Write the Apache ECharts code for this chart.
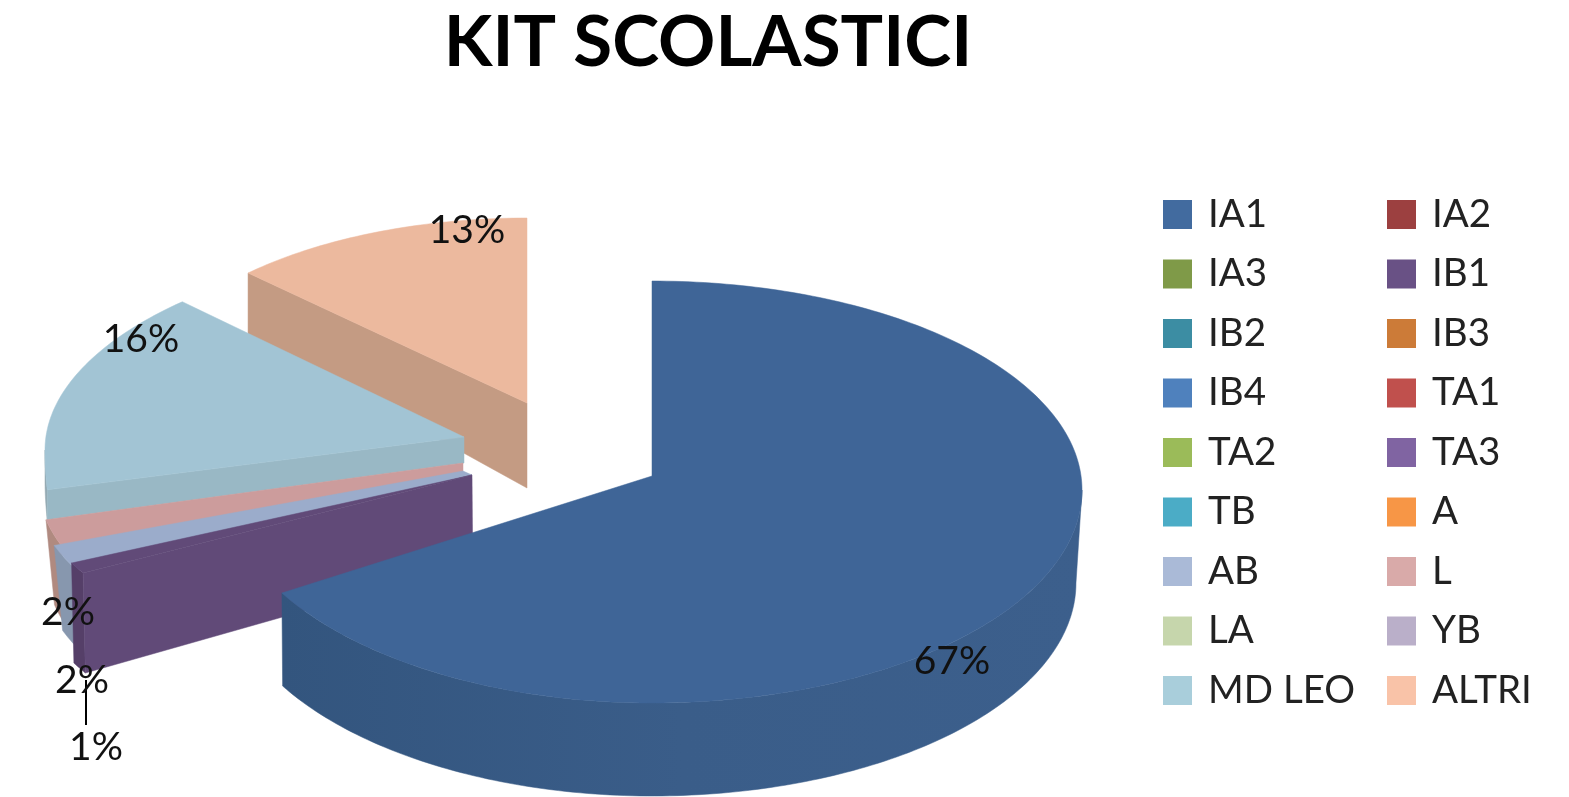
<!DOCTYPE html>
<html>
<head>
<meta charset="utf-8">
<script src="https://cdn.jsdelivr.net/npm/echarts@6/dist/echarts.min.js"></script>
<style>html,body{margin:0;padding:0;background:#fff}#c{width:1569px;height:797px;filter:blur(0.5px)}</style>
</head>
<body>
<div id="c"></div>
<script>
var chartTitle = 'KIT SCOLASTICI';
var categories = ['IA1','IA2','IA3','IB1','IB2','IB3','IB4','TA1','TA2','TA3','TB','A','AB','L','LA','YB','MD LEO','ALTRI'];
var values = [66.5,0,0,1.4,0,0,0,0,0,0,0,0,2,2,0,0,15.5,12.6];
var swatchColors = ['#426b9f','#9c4040','#7f9a48','#695185','#3c8da3','#cc7b38','#4f81bd','#c0504d','#9bbb59','#8064a2','#4bacc6','#f79646','#aabad7','#d9aaa9','#c6d6ac','#baafc9','#a9cedb','#f9c3a8'];

// Drawing layout of the exploded, perspective-tilted slices (angles come from the values).
var layout = {
  'IA1':   {z:6, apex:[652,476], ell:[652,479,430,198,224], right:[490,209,213], off:[0,0], top:'#3f6597', outer:[90,null], depth:93, wall:'#3a5c87', lean:0.002, leanRight:0.014, label:[952,661]},
  'IB1':   {z:5, apex:[472,475], ell:[521,450,476,211,211], off:[-20,22], warp:[244.4,0.6], top:'#614a78', outer:[null,null], depth:100, wall:'#553f68', face:'#614a78', apexDepth:88, lean:0.004, label:[96,747], leader:[86,680,86,725]},
  'AB':    {z:4, apex:[472,475], apexEnd:[463,471], ell:[521,450,476,211,211], off:[-15,29], top:'#9baccb', outer:[null,null], depth:85, wall:'#8797ae', label:[82,680]},
  'L':     {z:3, apex:[463,472], apexEnd:[463,463], ell:[521,450,476,211,211], off:[-8,29], top:'#cc9c9c', outer:[null,null], depth:85, wall:'#b08a80', label:[68,612]},
  'MD LEO':{z:2, apex:[464,437], ell:[521,450,476,211,410], off:[0,0], warp:[270,0.5], top:'#a2c4d4', outer:[null,270], depth:30, wall:'#93a9b2', face:'#99b8c5', apexDepth:26, lean:0, label:[141,339]},
  'ALTRI': {z:1, apex:[527,403], ell:[527,403,392,185,185], off:[0,0], top:'#ecb99e', depth:61, face:'#c49b83', apexDepth:85, lean:0, label:[467,230]}
};
var vanishX = 652, vanishK = 0.014;

var total = values.reduce(function (a, b) { return a + b; }, 0);
var startAngle = {}, endAngle = {};
(function () {
  var sum = 0;
  categories.forEach(function (c, i) {
    startAngle[c] = sum / total * 360;
    sum += values[i];
    endAngle[c] = sum / total * 360;
  });
})();

function rim(l, deg) {
  if (l.warp && deg < l.warp[0]) deg = l.warp[0] + (deg - l.warp[0]) * l.warp[1];
  var t = deg * Math.PI / 180, e = l.ell, c = Math.cos(t), s = Math.sin(t);
  var cy = e[1], ryB = e[3], ryF = e[4];
  if (l.right && s > 0) { cy = l.right[0]; ryB = l.right[1]; ryF = l.right[2]; }
  return [e[0] + l.off[0] + e[2] * s, cy + l.off[1] - (c >= 0 ? ryB : ryF) * c];
}
function drop(l, p, d) {
  var k = l.lean === undefined ? vanishK : l.lean;
  if (l.leanRight !== undefined && p[0] > vanishX) k = l.leanRight;
  return [p[0] + (vanishX - p[0]) * k, p[1] + d];
}
function arc(l, a, b) {
  var pts = [], n = Math.max(2, Math.ceil(Math.abs(b - a)));
  for (var i = 0; i <= n; i++) pts.push(rim(l, a + (b - a) * i / n));
  return pts;
}
function poly(points, fill) {
  return {type: 'polygon', shape: {points: points}, style: {fill: fill, stroke: fill, lineWidth: 0.5}};
}
var percentFont = '39px Lato';

function makeRender(name) {
  return function (params, api) {
    var v = api.value(0);
    if (!v) return null;
    var l = layout[name], t0 = startAngle[name], t1 = endAngle[name], kids = [];
    if (l.outer) {
      var a = l.outer[0] === null ? t0 : l.outer[0];
      var b = l.outer[1] === null ? t1 : l.outer[1];
      var up = arc(l, a, b);
      var down = up.map(function (p) { return drop(l, p, l.depth); }).reverse();
      var fill = l.wall;
      if (name === 'IA1') {
        fill = new echarts.graphic.LinearGradient(0, 0, 1, 0, [
          {offset: 0, color: '#33557e'}, {offset: 0.5, color: '#3a5d89'}, {offset: 1, color: '#3c5f8c'}
        ]);
      }
      kids.push(poly(up.concat(down), fill));
    }
    if (l.face) {
      var r = rim(l, t0);
      kids.push(poly([l.apex, r, drop(l, r, l.depth), drop(l, l.apex, l.apexDepth)], l.face));
    }
    var topPts = [l.apex].concat(arc(l, t0, t1));
    if (l.apexEnd) topPts.push(l.apexEnd);
    kids.push(poly(topPts, l.top));
    return {type: 'group', children: kids};
  };
}
function renderLabel(params, api) {
  var name = categories[api.value(1)], l = layout[name], kids = [];
  if (l.leader) {
    kids.push({type: 'line', shape: {x1: l.leader[0], y1: l.leader[1], x2: l.leader[2], y2: l.leader[3]}, style: {stroke: '#000', lineWidth: 2}});
  }
  kids.push({type: 'text', style: {
    text: Math.round(api.value(0) / total * 100) + '%', x: l.label[0], y: l.label[1],
    align: 'center', verticalAlign: 'middle', font: percentFont, fill: '#111'
  }});
  return {type: 'group', children: kids};
}

var series = categories.map(function (c, i) {
  return {
    type: 'custom', name: c, coordinateSystem: 'none', silent: true, animation: false,
    z: layout[c] ? layout[c].z + 1 : 1,
    color: swatchColors[i], itemStyle: {color: swatchColors[i]},
    renderItem: makeRender(c), data: [[values[i]]]
  };
});
series.push({
  type: 'custom', name: 'labels', coordinateSystem: 'none', silent: true, animation: false, z: 20,
  renderItem: renderLabel,
  data: categories.map(function (c, i) { return [values[i], i]; }).filter(function (d) { return d[0] > 0; })
});

function legendCol(left, names) {
  return {
    left: left, top: 195, orient: 'vertical', padding: 0, selectedMode: false,
    icon: 'rect', itemWidth: 29, itemHeight: 29, itemGap: 20.5, data: names,
    textStyle: {fontFamily: 'Lato', fontSize: 38.5, color: '#222', lineHeight: 29, padding: [0, 0, 6, 11]}
  };
}
var chart = echarts.init(document.getElementById('c'), null, {renderer: 'canvas'});
chart.setOption({
  backgroundColor: '#fff',
  animation: false,
  title: {text: chartTitle, left: 708, top: 8, textAlign: 'center', padding: 0,
    textStyle: {fontFamily: 'Lato', fontWeight: 'bold', fontSize: 71, color: '#000'}},
  legend: [
    legendCol(1163, categories.filter(function (c, i) { return i % 2 === 0; })),
    legendCol(1387, categories.filter(function (c, i) { return i % 2 === 1; }))
  ],
  series: series
});
</script>
</body>
</html>
